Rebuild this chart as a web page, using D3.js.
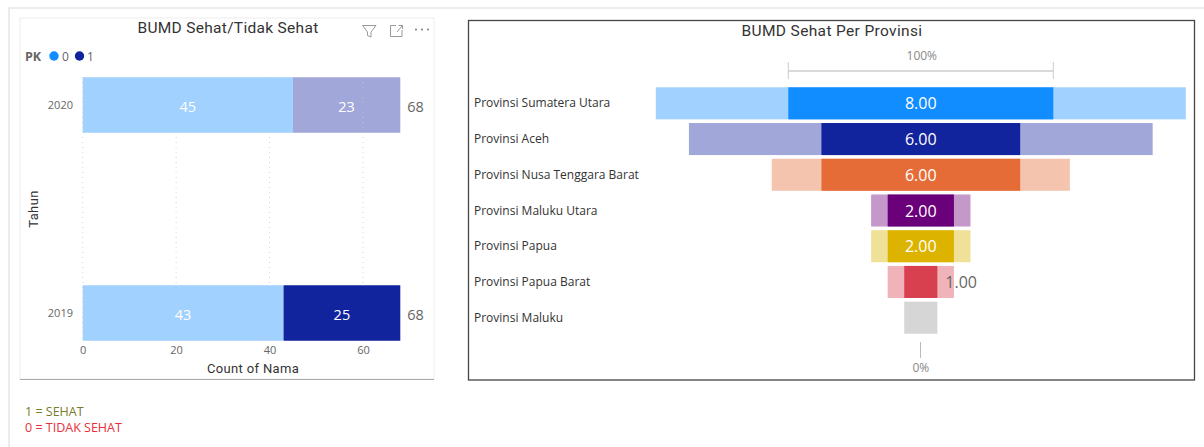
<!DOCTYPE html>
<html><head><meta charset="utf-8">
<script src="https://cdn.jsdelivr.net/npm/d3@7/dist/d3.min.js"></script>
<style>
html,body{margin:0;padding:0;background:#fff;overflow:hidden}
svg{display:block}
text{font-family:"Open Sans",Roboto,sans-serif}
.title{font-family:Roboto,"DejaVu Sans",sans-serif}
</style></head><body>
<svg id="c" width="1204" height="447"></svg>
<script>
const years = ["2020","2019"];
const pk0Values = [45,43];
const pk1Values = [23,25];
const totals = [68,68];
const xTicks = [0,20,40,60];
const pk1Colors = ["#a1a7d9","#12239e"];
const provinces = ["Provinsi Sumatera Utara","Provinsi Aceh","Provinsi Nusa Tenggara Barat","Provinsi Maluku Utara","Provinsi Papua","Provinsi Papua Barat","Provinsi Maluku"];
const sehat = [8,6,6,2,2,1,0];
const total = [16,14,9,3,3,2,1];
const darkColors = ["#118dff","#12239e","#e66c37","#6b007b","#dcb400","#d9404f","#d6d6d6"];
const lightColors = ["#a0d1ff","#a1a7d9","#f5c4af","#c499ca","#f0e199","#f0b3b9","#d6d6d6"];
const svg = d3.select("#c");
const grey="#666";

// page frame
svg.append("rect").attr("x",0).attr("y",0).attr("width",1204).attr("height",447).attr("fill","#fff");
svg.append("rect").attr("x",8).attr("y",7).attr("width",1196).attr("height",2).attr("fill","#ececec");
svg.append("rect").attr("x",8).attr("y",7).attr("width",2).attr("height",440).attr("fill","#ececec");

// left card
svg.append("rect").attr("x",20).attr("y",18).attr("width",414).attr("height",361).attr("fill","#fff").attr("stroke","#eee");
svg.append("line").attr("x1",20).attr("x2",434).attr("y1",379.5).attr("y2",379.5).attr("stroke","#aaa").attr("stroke-width",1);
svg.append("text").attr("class","title").attr("x",228).attr("y",33).attr("text-anchor","middle").attr("font-size",15.5).attr("letter-spacing",.3).attr("fill","#333").text("BUMD Sehat/Tidak Sehat");

// visual header icons
const ic = svg.append("g").attr("fill","none").attr("stroke","#999").attr("stroke-width",1);
ic.append("path").attr("d","M362.5 25.5H376L371 32V37L367.5 35.5V32Z");
ic.append("path").attr("d","M396 25.5H390.5V36.5H402V30M397 32L402.5 25.5M398.5 25.5H402.5V29");
ic.append("g").selectAll("circle").data([416,422,428]).join("circle").attr("cx",d=>d).attr("cy",29.5).attr("r",1).attr("fill","#777").attr("stroke","none");

// legend
svg.append("text").attr("x",25).attr("y",60.5).attr("font-size",12.5).attr("font-weight",700).attr("fill",grey).text("PK");
svg.append("circle").attr("cx",54).attr("cy",56).attr("r",4.7).attr("fill","#118dff");
svg.append("text").attr("x",62).attr("y",60.5).attr("font-size",12).attr("fill",grey).text("0");
svg.append("circle").attr("cx",79.5).attr("cy",56).attr("r",4.7).attr("fill","#12239e");
svg.append("text").attr("x",87).attr("y",60.5).attr("font-size",12).attr("fill",grey).text("1");

// left chart scales
const x = d3.scaleLinear().domain([0,68]).range([82.7,400.3]);
const yCenter = d3.scalePoint().domain(years).range([105,313]);
const barH = 55.5;

years.forEach((yr,i)=>{
  const c=yCenter(yr);
  svg.append("rect").attr("x",x(0)).attr("y",c-barH/2).attr("width",x(pk0Values[i])-x(0)).attr("height",barH).attr("fill","#a0d1ff");
  if(i===0) svg.append("rect").attr("x",x(pk0Values[i])).attr("y",c-barH/2).attr("width",x(totals[i])-x(pk0Values[i])).attr("height",barH).attr("fill",pk1Colors[i]);
});

svg.append("g").selectAll("line").data(xTicks).join("line")
  .attr("x1",d=>x(d)).attr("x2",d=>x(d)).attr("y1",77).attr("y2",341)
  .attr("stroke","#c8c8c8").attr("stroke-opacity",.75).attr("stroke-dasharray","1 4");

years.forEach((yr,i)=>{
  const c=yCenter(yr);
  if(i===1) svg.append("rect").attr("x",x(pk0Values[i])).attr("y",c-barH/2).attr("width",x(totals[i])-x(pk0Values[i])).attr("height",barH).attr("fill",pk1Colors[i]);
  svg.append("text").attr("x",(x(0)+x(pk0Values[i]))/2).attr("y",c+7).attr("text-anchor","middle").attr("font-size",14.5).attr("fill","#fff").text(pk0Values[i]);
  svg.append("text").attr("x",(x(pk0Values[i])+x(totals[i]))/2).attr("y",c+7).attr("text-anchor","middle").attr("font-size",14.5).attr("fill","#fff").text(pk1Values[i]);
  svg.append("text").attr("x",x(totals[i])+7).attr("y",c+7).attr("font-size",14.5).attr("fill",grey).text(totals[i]);
  svg.append("text").attr("x",73).attr("y",c+4).attr("text-anchor","end").attr("font-size",11).attr("fill",grey).text(yr);
});

const xAxis = d3.axisBottom(x).tickValues(xTicks).tickSize(0).tickPadding(0);
const xg = svg.append("g").attr("transform","translate(0,346)").call(xAxis);
xg.select(".domain").remove();
xg.selectAll("text").attr("font-size",11).attr("fill",grey).attr("font-family",'"Open Sans",sans-serif');

svg.append("text").attr("class","title").attr("x",253).attr("y",373).attr("text-anchor","middle").attr("font-size",13).attr("letter-spacing",.35).attr("fill","#333").text("Count of Nama");
svg.append("text").attr("class","title").attr("transform","translate(38,209) rotate(-90)").attr("text-anchor","middle").attr("font-size",13).attr("letter-spacing",.35).attr("fill","#333").text("Tahun");

// notes
svg.append("text").attr("x",25).attr("y",416).attr("font-size",12.5).attr("fill","#7a7a30").text("1 = SEHAT");
svg.append("text").attr("x",25).attr("y",432).attr("font-size",12.5).attr("fill","#e8303a").text("0 = TIDAK SEHAT");

// right card
svg.append("rect").attr("x",468.5).attr("y",20.5).attr("width",726).attr("height",359.5).attr("fill","#fff").attr("stroke","#444").attr("stroke-width",1.3);
svg.append("text").attr("class","title").attr("x",832).attr("y",36).attr("text-anchor","middle").attr("font-size",15.5).attr("letter-spacing",.35).attr("fill","#333").text("BUMD Sehat Per Provinsi");

const fw = d3.scaleLinear().domain([0,8]).range([0,265]);
const fc = 920.8;
const fy = d3.scaleBand().domain(provinces).range([87.3,333.7]).paddingInner(.103).paddingOuter(0);

provinces.forEach((p,i)=>{
  const y=fy(p), h=fy.bandwidth();
  svg.append("rect").attr("x",fc-fw(total[i])/2).attr("y",y).attr("width",fw(total[i])).attr("height",h).attr("fill",lightColors[i]);
  if(sehat[i]>0) svg.append("rect").attr("x",fc-fw(sehat[i])/2).attr("y",y).attr("width",fw(sehat[i])).attr("height",h).attr("fill",darkColors[i]);
  svg.append("text").attr("x",474).attr("y",y+h/2+4).attr("font-size",12).attr("fill","#333").text(p);
  if(sehat[i]>=2) svg.append("text").attr("x",fc).attr("y",y+h/2+6).attr("text-anchor","middle").attr("font-size",16).attr("fill","#fff").text(d3.format(".2f")(sehat[i]));
  else if(sehat[i]===1) svg.append("text").attr("x",fc+fw(sehat[i])/2+8).attr("y",y+h/2+6).attr("font-size",16).attr("fill",grey).text(d3.format(".2f")(sehat[i]));
});

// percent bar
const pct = svg.append("g").attr("stroke","#ccc").attr("fill","none");
pct.append("line").attr("x1",fc-fw(8)/2).attr("x2",fc+fw(8)/2).attr("y1",71).attr("y2",71).attr("stroke-width",1.5);
pct.append("line").attr("x1",fc-fw(8)/2).attr("x2",fc-fw(8)/2).attr("y1",62).attr("y2",79);
pct.append("line").attr("x1",fc+fw(8)/2).attr("x2",fc+fw(8)/2).attr("y1",62).attr("y2",79);
pct.append("line").attr("x1",fc-.3).attr("x2",fc-.3).attr("y1",342).attr("y2",358).attr("stroke","#bbb");
svg.append("text").attr("x",fc+1).attr("y",60).attr("text-anchor","middle").attr("font-size",12).attr("fill","#888").text("100%");
svg.append("text").attr("x",fc).attr("y",372).attr("text-anchor","middle").attr("font-size",12).attr("fill","#888").text("0%");
</script></body></html>
